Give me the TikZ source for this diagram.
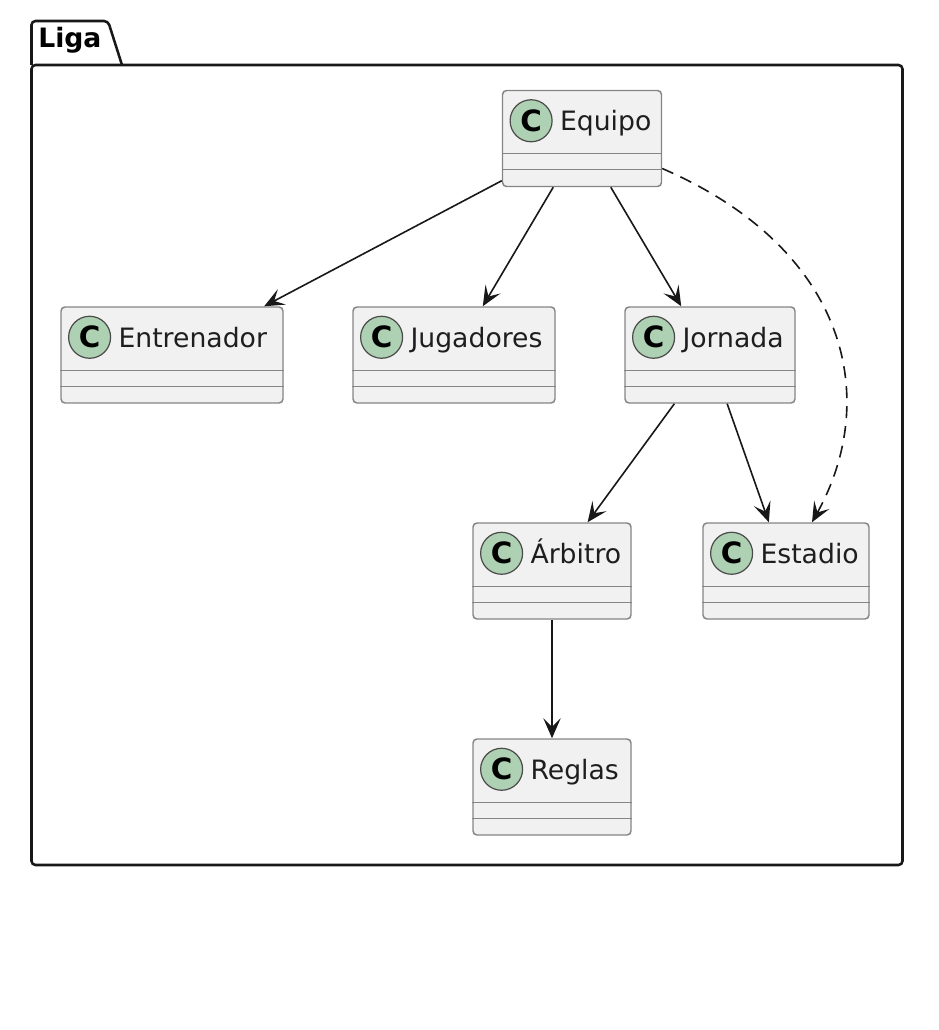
\documentclass[tikz,border=0pt]{standalone}
\usepackage{fontspec}
\setmainfont{DejaVu Sans}
\usetikzlibrary{arrows.meta,calc}
\definecolor{boxfill}{HTML}{F1F1F1}
\definecolor{boxborder}{HTML}{858585}
\definecolor{spotfill}{HTML}{ADD1B2}
\definecolor{spotborder}{HTML}{4A4A4A}
\definecolor{ink}{HTML}{181818}
\definecolor{txt}{HTML}{1E1E1E}
\tikzset{
  classbox/.style={draw=boxborder, fill=boxfill, line width=1.1pt, rounded corners=3pt, inner sep=0pt, minimum height=72pt},
  classline/.style={draw=boxborder, line width=1.1pt},
  spot/.style={circle, draw=spotborder, fill=spotfill, line width=0.9pt, minimum size=31.5pt, inner sep=0pt, font=\fontsize{22}{22}\selectfont\bfseries, text=black},
  classname/.style={anchor=base west, inner sep=0pt, font=\fontsize{20}{24}\selectfont, text=txt},
  rel/.style={draw=ink, line width=1.2pt, -{Stealth[length=15pt,width=13pt,inset=6.5pt]}},
  pkg/.style={draw=ink, line width=1.9pt, rounded corners=3pt},
}
\newcommand\umlclass[5]{% name, cx, cy, width(px), label
  \node[classbox, minimum width=#4*0.75pt] (#1) at (#2,#3) {};
  \draw[classline] ([yshift=-48pt]#1.north west) -- ([yshift=-48pt]#1.north east);
  \draw[classline] ([yshift=-60pt]#1.north west) -- ([yshift=-60pt]#1.north east);
  \node[spot] (#1-spot) at ([xshift=22pt,yshift=-23.25pt]#1.north west) {C};
  \node[classname] (#1-name) at ([xshift=43.5pt,yshift=-30.75pt]#1.north west) {#5};
}
\begin{document}
\begin{tikzpicture}[x=0.75pt,y=-0.75pt]
\useasboundingbox (0,0) rectangle (938,1030);
% package
\draw[pkg] (31.5,65) rectangle (902.5,865);
\draw[pkg] (31.5,65) -- (31.5,21) -- (108,21) -- (122,65);
\node[anchor=base west, inner sep=0pt, font=\fontsize{20}{24}\selectfont\bfseries, text=black] (liga) at (38,48) {Liga};
% classes
\umlclass{equipo}{582}{138.5}{159}{Equipo}
\umlclass{entrenador}{172}{355}{222}{Entrenador}
\umlclass{jugadores}{454}{355}{202}{Jugadores}
\umlclass{jornada}{710}{355}{170}{Jornada}
\umlclass{arbitro}{552}{571}{158}{Árbitro}
\umlclass{estadio}{786}{571}{166}{Estadio}
\umlclass{reglas}{552}{787}{158}{Reglas}
% relations
\draw[rel] (equipo) -- (entrenador);
\draw[rel] (equipo) -- (jugadores);
\draw[rel] (equipo) -- (jornada);
\draw[rel] (jornada) -- (arbitro);
\draw[rel] (jornada) -- (estadio);
\draw[rel] (arbitro) -- (reglas);
\draw[rel, dashed, dash pattern=on 9pt off 6pt] ([yshift=-22.5pt]equipo.east) .. controls (850,250) and (880,400) .. ([xshift=19.5pt]estadio.north);
\end{tikzpicture}
\end{document}
